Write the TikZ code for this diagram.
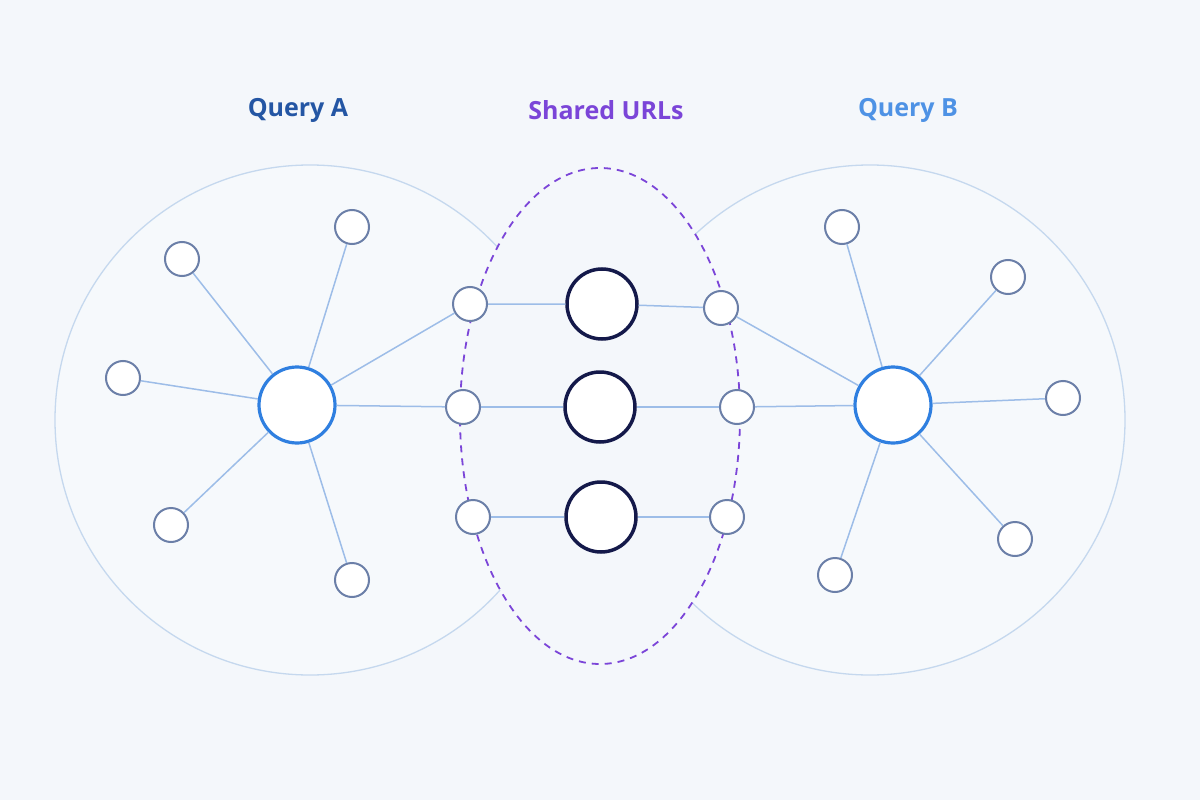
\documentclass[tikz,border=0pt]{standalone}
\usepackage{fontspec}
\setmainfont{Open Sans}
\begin{document}
\begin{tikzpicture}[x=1pt,y=-1pt,
  leaf/.style={circle,draw=leafc,line width=2pt,fill=white,minimum size=34pt,inner sep=0},
  hub/.style={circle,draw=hubc,line width=3.2pt,fill=white,minimum size=76pt,inner sep=0},
  url/.style={circle,draw=navy,line width=3.5pt,fill=white,minimum size=70pt,inner sep=0},
  edge/.style={draw=edgec,line width=1.5pt},
  lab/.style={font=\bfseries\fontsize{25}{30}\selectfont}]
\definecolor{bg}{HTML}{F4F7FB}
\definecolor{leafc}{HTML}{6B7FA8}
\definecolor{hubc}{HTML}{2F7FE0}
\definecolor{navy}{HTML}{14194A}
\definecolor{edgec}{HTML}{9DBDE8}
\definecolor{ringc}{HTML}{C5D8EE}
\definecolor{purp}{HTML}{7B45D8}
\fill[bg] (0,0) rectangle (1200,800);
\useasboundingbox (0,0) rectangle (1200,800);
\draw[ringc,line width=1.3pt,fill=white,fill opacity=0.25] (310,420) circle (255);
\draw[ringc,line width=1.3pt,fill=white,fill opacity=0.25] (870,420) circle (255);
\draw[purp,line width=1.8pt,dash pattern=on 7pt off 6pt,fill=bg] (600,416) ellipse (140 and 248);

\node[hub] (A) at (297,405) {};
\node[hub] (B) at (893,405) {};
\foreach \n/\x/\y in {a1/182/259,a2/352/227,a3/123/378,a4/171/525,a5/352/580,
  l1/470/304,l2/463/407,l3/473/517,r1/721/308,r2/737/407,r3/727/517,
  b1/842/227,b2/1008/277,b3/1063/398,b4/1015/539,b5/835/575}
  \node[leaf] (\n) at (\x,\y) {};
\node[url] (u1) at (602,304) {};
\node[url] (u2) at (600,407) {};
\node[url] (u3) at (601,517) {};

\foreach \t in {a1,a2,a3,a4,a5,l1,l2} \path[edge] (A) -- (\t);
\foreach \t in {b1,b2,b3,b4,b5,r1,r2} \path[edge] (B) -- (\t);
\path[edge] (l1) -- (u1) -- (r1);
\path[edge] (l2) -- (u2) -- (r2);
\path[edge] (l3) -- (u3) -- (r3);

\node[lab,text=hubc!60!navy] at (298,110) {Query A};
\node[lab,text=purp] at (606,110) {Shared URLs};
\node[lab,text=hubc!85!white] at (908,110) {Query B};
\end{tikzpicture}
\end{document}
